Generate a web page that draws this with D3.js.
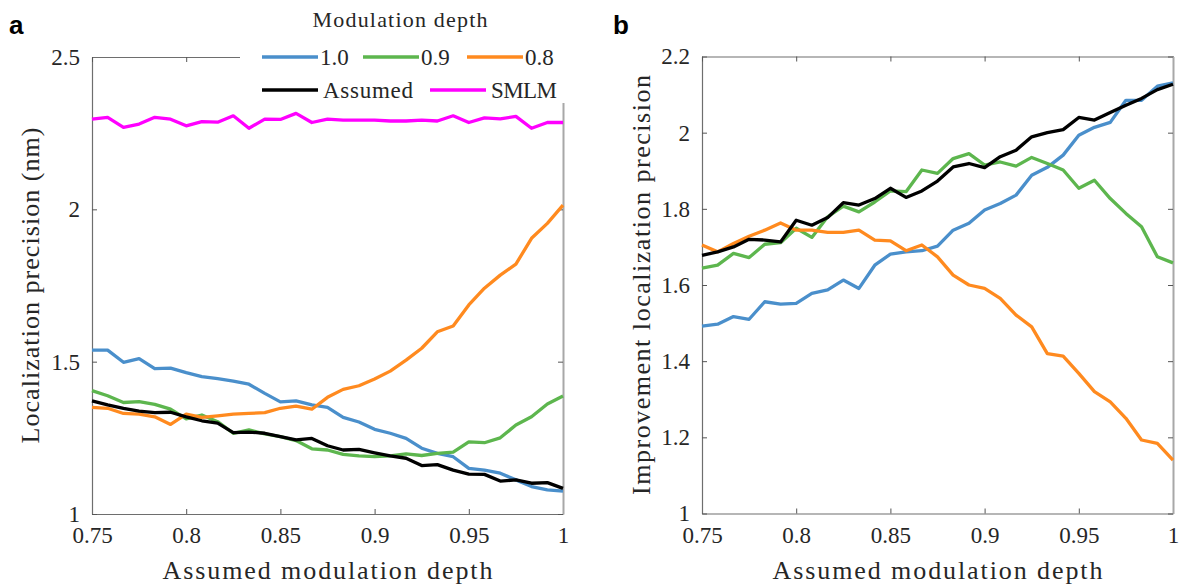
<!DOCTYPE html>
<html>
<head>
<meta charset="utf-8">
<script src="https://cdn.jsdelivr.net/npm/d3@7"></script>
<style>
  html, body { margin: 0; padding: 0; background: #fff; }
  svg { display: block; }
</style>
</head>
<body>
<svg id="fig" width="1181" height="585"></svg>
<script>
// Assumed modulation depth (shared x values for every curve)
const assumedDepth = [0.7500, 0.7583, 0.7667, 0.7750, 0.7833, 0.7917, 0.8000, 0.8083, 0.8167, 0.8250,
  0.8333, 0.8417, 0.8500, 0.8583, 0.8667, 0.8750, 0.8833, 0.8917, 0.9000, 0.9083,
  0.9167, 0.9250, 0.9333, 0.9417, 0.9500, 0.9583, 0.9667, 0.9750, 0.9833, 0.9917, 1.0000];

// Panel a: localization precision (nm)
const precDepth10 = [1.538, 1.538, 1.498, 1.510, 1.477, 1.479, 1.464, 1.451, 1.444, 1.436, 1.426, 1.396, 1.368, 1.371, 1.358, 1.350, 1.317, 1.302, 1.278, 1.265, 1.248, 1.216, 1.199, 1.188, 1.150, 1.144, 1.134, 1.112, 1.090, 1.079, 1.075];
const precDepth09 = [1.405, 1.388, 1.366, 1.369, 1.360, 1.344, 1.312, 1.325, 1.303, 1.265, 1.276, 1.263, 1.254, 1.241, 1.214, 1.210, 1.196, 1.191, 1.188, 1.191, 1.197, 1.192, 1.199, 1.203, 1.237, 1.234, 1.250, 1.292, 1.319, 1.361, 1.387];
const precDepth08 = [1.350, 1.347, 1.330, 1.328, 1.319, 1.294, 1.328, 1.317, 1.322, 1.328, 1.330, 1.333, 1.347, 1.354, 1.344, 1.383, 1.409, 1.421, 1.443, 1.469, 1.505, 1.544, 1.598, 1.617, 1.686, 1.741, 1.784, 1.820, 1.905, 1.954, 2.014];
const precAssumed = [1.371, 1.358, 1.347, 1.338, 1.333, 1.334, 1.319, 1.306, 1.298, 1.267, 1.269, 1.265, 1.254, 1.243, 1.248, 1.224, 1.210, 1.212, 1.201, 1.191, 1.183, 1.159, 1.162, 1.144, 1.131, 1.130, 1.108, 1.112, 1.101, 1.103, 1.084];
const precSMLM = [2.296, 2.302, 2.269, 2.280, 2.302, 2.296, 2.274, 2.288, 2.286, 2.307, 2.266, 2.296, 2.295, 2.315, 2.285, 2.296, 2.293, 2.293, 2.293, 2.290, 2.290, 2.293, 2.290, 2.307, 2.285, 2.300, 2.297, 2.305, 2.266, 2.285, 2.285];

// Panel b: improvement of localization precision
const impDepth10 = [1.492, 1.497, 1.517, 1.510, 1.556, 1.550, 1.552, 1.578, 1.587, 1.613, 1.591, 1.652, 1.681, 1.687, 1.690, 1.702, 1.744, 1.762, 1.797, 1.814, 1.836, 1.888, 1.909, 1.941, 1.993, 2.014, 2.027, 2.085, 2.085, 2.122, 2.131];
const impDepth09 = [1.644, 1.652, 1.683, 1.672, 1.707, 1.711, 1.749, 1.725, 1.779, 1.807, 1.792, 1.818, 1.847, 1.845, 1.902, 1.893, 1.932, 1.945, 1.915, 1.923, 1.912, 1.935, 1.919, 1.902, 1.854, 1.875, 1.827, 1.788, 1.753, 1.674, 1.658];
const impDepth08 = [1.705, 1.687, 1.709, 1.728, 1.744, 1.763, 1.744, 1.744, 1.738, 1.738, 1.744, 1.718, 1.716, 1.690, 1.705, 1.674, 1.626, 1.600, 1.591, 1.565, 1.521, 1.490, 1.420, 1.413, 1.368, 1.320, 1.293, 1.250, 1.193, 1.184, 1.140];
const impAssumed = [1.678, 1.687, 1.700, 1.720, 1.718, 1.713, 1.770, 1.757, 1.777, 1.816, 1.810, 1.827, 1.854, 1.830, 1.847, 1.873, 1.910, 1.919, 1.908, 1.937, 1.954, 1.989, 2.000, 2.008, 2.040, 2.033, 2.053, 2.072, 2.090, 2.113, 2.127];

// Tick values
const xTicks = [0.75, 0.8, 0.85, 0.9, 0.95, 1];
const xTickLabels = ["0.75", "0.8", "0.85", "0.9", "0.95", "1"];
const yTicksA = [1, 1.5, 2, 2.5];
const yTickLabelsA = ["1", "1.5", "2", "2.5"];
const yTicksB = [1, 1.2, 1.4, 1.6, 1.8, 2, 2.2];
const yTickLabelsB = ["1", "1.2", "1.4", "1.6", "1.8", "2", "2.2"];

// Legend entries
const legendTitle = "Modulation depth";
const legendRow1 = [{ label: "1.0", color: "#4a8fcb" }, { label: "0.9", color: "#5db64e" }, { label: "0.8", color: "#ff8a1f" }];
const legendRow2 = [{ label: "Assumed", color: "#000000" }, { label: "SMLM", color: "#ff00ff" }];

const C = { d10: "#4a8fcb", d09: "#5db64e", d08: "#ff8a1f", assumed: "#000000", smlm: "#ff00ff" };
const SERIF = '"Liberation Serif", "Times New Roman", serif';
const SANS = '"Liberation Sans", Arial, sans-serif';

const svg = d3.select("#fig");

function drawPanel(opts) {
  const { x0, x1, y0, y1, yDomain, yTicks, yTickLabels, series, yTitle, yTitleX, yTitleLen } = opts;
  const x = d3.scaleLinear().domain([0.75, 1]).range([x0, x1]);
  const y = d3.scaleLinear().domain(yDomain).range([y0, y1]);
  const g = svg.append("g");

  const xFmt = d => xTickLabels[xTicks.indexOf(d)];
  const yFmt = d => yTickLabels[yTicks.indexOf(d)];

  // bottom axis (inward ticks)
  const gb = g.append("g").attr("transform", `translate(0,${y0})`)
    .call(d3.axisBottom(x).tickValues(xTicks).tickFormat(xFmt).tickSizeInner(-5).tickSizeOuter(0).tickPadding(13));
  // left axis
  const gl = g.append("g").attr("transform", `translate(${x0},0)`)
    .call(d3.axisLeft(y).tickValues(yTicks).tickFormat(yFmt).tickSizeInner(-5).tickSizeOuter(0).tickPadding(12));
  // top axis
  const gt = g.append("g").attr("transform", `translate(0,${y1})`)
    .call(d3.axisTop(x).tickValues(xTicks).tickFormat("").tickSizeInner(-5).tickSizeOuter(0));
  // right axis
  const gr = g.append("g").attr("transform", `translate(${x1},0)`)
    .call(d3.axisRight(y).tickValues(yTicks).tickFormat("").tickSizeInner(-5).tickSizeOuter(0));

  [gb, gl, gt, gr].forEach(a => {
    a.attr("font-family", SERIF).attr("font-size", 23);
    a.selectAll(".tick text").attr("fill", "#262626");
    a.selectAll(".tick line").attr("stroke", "#555");
  });
  [gb, gl, gt].forEach(a => a.select(".domain").attr("stroke", "#6e6e6e").attr("stroke-width", 1.2));
  gr.select(".domain").attr("stroke", "#a8a8a8").attr("stroke-width", 2);
  gb.selectAll(".tick text").attr("dy", "0.71em");

  // data lines
  const line = d3.line().x((d, i) => x(assumedDepth[i])).y(d => y(d));
  series.forEach(s => {
    g.append("path").datum(s.values)
      .attr("fill", "none").attr("stroke", s.color).attr("stroke-width", 3.3)
      .attr("stroke-linejoin", "round").attr("d", line);
  });

  // axis titles
  g.append("text")
    .attr("x", (x0 + x1) / 2).attr("y", 579)
    .attr("text-anchor", "middle")
    .attr("font-family", SERIF).attr("font-size", 26).attr("fill", "#262626")
    .attr("textLength", 330).attr("lengthAdjust", "spacing")
    .text("Assumed modulation depth");
  g.append("text")
    .attr("transform", `translate(${yTitleX},${(y0 + y1) / 2}) rotate(-90)`)
    .attr("text-anchor", "middle")
    .attr("font-family", SERIF).attr("font-size", 26).attr("fill", "#262626")
    .attr("textLength", yTitleLen).attr("lengthAdjust", "spacing")
    .text(yTitle);
  return { g, x, y };
}

// Panel a
drawPanel({
  x0: 92, x1: 563, y0: 514, y1: 57, yDomain: [1, 2.5],
  yTicks: yTicksA, yTickLabels: yTickLabelsA,
  series: [
    { values: precDepth10, color: C.d10 },
    { values: precDepth09, color: C.d09 },
    { values: precDepth08, color: C.d08 },
    { values: precAssumed, color: C.assumed },
    { values: precSMLM, color: C.smlm }
  ],
  yTitle: "Localization precision (nm)", yTitleX: 39, yTitleLen: 316
});

// Panel b
drawPanel({
  x0: 702, x1: 1173, y0: 513.5, y1: 56.5, yDomain: [1, 2.2],
  yTicks: yTicksB, yTickLabels: yTickLabelsB,
  series: [
    { values: impDepth10, color: C.d10 },
    { values: impDepth09, color: C.d09 },
    { values: impDepth08, color: C.d08 },
    { values: impAssumed, color: C.assumed }
  ],
  yTitle: "Improvement localization precision", yTitleX: 650, yTitleLen: 420
});

// Legend (opaque box over the top-right of panel a)
const leg = svg.append("g");
leg.append("rect").attr("x", 240).attr("y", 0).attr("width", 335).attr("height", 103).attr("fill", "#fff");
leg.append("text").attr("x", 400).attr("y", 27).attr("text-anchor", "middle")
  .attr("font-family", SERIF).attr("font-size", 22).attr("fill", "#262626")
  .attr("textLength", 175).attr("lengthAdjust", "spacing")
  .text(legendTitle);

const row1X = [262, 363, 467];
legendRow1.forEach((d, i) => {
  leg.append("line").attr("x1", row1X[i]).attr("x2", row1X[i] + 56).attr("y1", 57).attr("y2", 57)
    .attr("stroke", d.color).attr("stroke-width", 3.3);
  leg.append("text").attr("x", row1X[i] + 58).attr("y", 65)
    .attr("font-family", SERIF).attr("font-size", 23).attr("fill", "#262626").text(d.label);
});
const row2X = [262, 430];
const row2Len = [90, 66];
legendRow2.forEach((d, i) => {
  leg.append("line").attr("x1", row2X[i]).attr("x2", row2X[i] + 56).attr("y1", 90).attr("y2", 90)
    .attr("stroke", d.color).attr("stroke-width", 3.3);
  leg.append("text").attr("x", row2X[i] + 61).attr("y", 98)
    .attr("font-family", SERIF).attr("font-size", 23).attr("fill", "#262626")
    .attr("textLength", row2Len[i]).attr("lengthAdjust", "spacing").text(d.label);
});

// Panel letters
svg.append("text").attr("x", 9).attr("y", 34).attr("font-family", SANS).attr("font-weight", "bold")
  .attr("font-size", 26).attr("fill", "#000").text("a");
svg.append("text").attr("x", 613).attr("y", 34).attr("font-family", SANS).attr("font-weight", "bold")
  .attr("font-size", 26).attr("fill", "#000").text("b");
</script>
</body>
</html>
